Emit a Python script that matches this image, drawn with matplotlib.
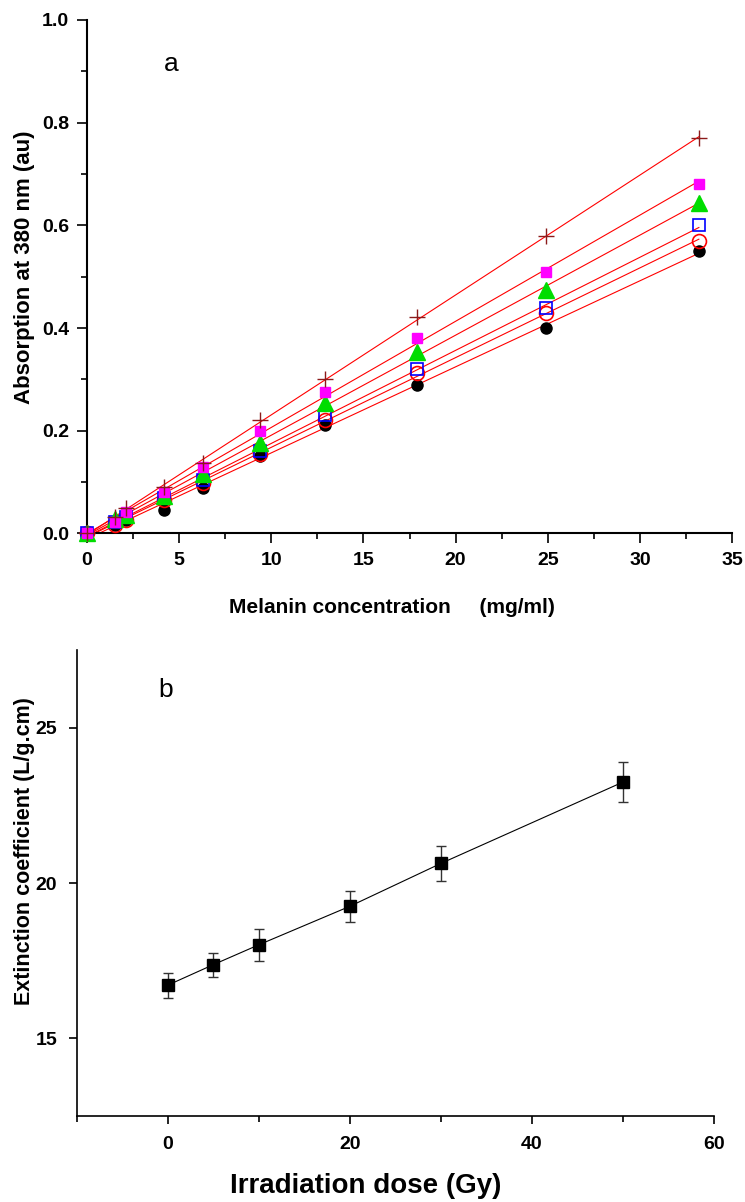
import numpy as np
import matplotlib.pyplot as plt
from matplotlib.ticker import MultipleLocator, FormatStrFormatter

plt.rcParams['font.family'] = ['Liberation Sans', 'DejaVu Sans']

# panel a: absorption vs melanin concentration, one series per dose
conc = [0, 1.5, 2.1, 4.2, 6.3, 9.4, 12.9, 17.9, 24.9, 33.2]
abs_black = [0, 0.016, 0.026, 0.046, 0.088, 0.150, 0.211, 0.290, 0.400, 0.550]
abs_red = [0, 0.017, 0.027, 0.065, 0.098, 0.155, 0.221, 0.312, 0.429, 0.570]
abs_blue = [0, 0.022, 0.032, 0.069, 0.104, 0.160, 0.231, 0.320, 0.440, 0.600]
abs_green = [0, 0.028, 0.036, 0.072, 0.116, 0.177, 0.254, 0.354, 0.474, 0.644]
abs_magenta = [0, 0.023, 0.042, 0.081, 0.130, 0.200, 0.275, 0.380, 0.510, 0.680]
abs_cross = [0, 0.033, 0.049, 0.090, 0.137, 0.220, 0.300, 0.421, 0.579, 0.770]

# panel b: extinction coefficient vs dose
dose = [0, 5, 10, 20, 30, 50]
ext = [16.71, 17.37, 18.01, 19.25, 20.63, 23.25]
ext_err = [0.41, 0.39, 0.51, 0.51, 0.57, 0.64]

fig = plt.figure(figsize=(7.45, 12.02), dpi=100)

# ---- panel a ----
ax = fig.add_axes([0.1168, 0.5562, 0.8658, 0.4272])
series = [
    (abs_black, dict(marker='o', ms=8, mfc='black', mec='black')),
    (abs_red, dict(marker='o', ms=10, mfc='none', mec='red', mew=1.2)),
    (abs_blue, dict(marker='s', ms=9, mfc='none', mec='blue', mew=1.2)),
    (abs_green, dict(marker='^', ms=11, mfc='#00dd00', mec='#00dd00')),
    (abs_magenta, dict(marker='s', ms=7, mfc='#ff00ff', mec='#ff00ff')),
    (abs_cross, dict(marker='+', ms=11, mec='#8b1a1a', mew=1.0)),
]
xfit = np.array([0, conc[-1]])
for y, st in series:
    k, b = np.polyfit(conc, y, 1)
    ax.plot(xfit, k * xfit + b, color='red', lw=0.8, zorder=2)
for y, st in series:
    ax.plot(conc, y, ls='none', zorder=3, clip_on=False, **st)

ax.set_xlim(0, 35)
ax.set_ylim(0, 1.0)
ax.xaxis.set_major_locator(MultipleLocator(5))
ax.xaxis.set_minor_locator(MultipleLocator(2.5))
ax.yaxis.set_major_locator(MultipleLocator(0.2))
ax.yaxis.set_minor_locator(MultipleLocator(0.1))
ax.yaxis.set_major_formatter(FormatStrFormatter('%.1f'))
for s in ['top', 'right']:
    ax.spines[s].set_visible(False)
for s in ['left', 'bottom']:
    ax.spines[s].set_linewidth(1.5)
ax.tick_params(which='major', direction='out', length=7, width=1.2, labelsize=14, pad=6)
ax.tick_params(which='minor', direction='out', length=4, width=1.2)
for lab in ax.get_xticklabels() + ax.get_yticklabels():
    lab.set_fontweight('bold')
ax.set_xlabel('Melanin concentration     (mg/ml)', fontsize=15, fontweight='bold')
ax.xaxis.set_label_coords(0.473, -0.125)
ax.set_ylabel('Absorption at 380 nm (au)', fontsize=16, fontweight='bold')
ax.yaxis.set_label_coords(-0.081, 0.519)
ax.text(0.13, 0.915, 'a', transform=ax.transAxes, fontsize=19, ha='center', va='center')

# ---- panel b ----
bx = fig.add_axes([0.1027, 0.0715, 0.8557, 0.3877])
bx.errorbar(dose, ext, yerr=ext_err, color='black', lw=0.8, marker='s', ms=8,
            ecolor='#333333', elinewidth=1.0, capsize=3.5, capthick=1.0)
bx.set_xlim(-10, 60)
bx.set_ylim(12.5, 27.5)
bx.xaxis.set_major_locator(MultipleLocator(20))
bx.xaxis.set_minor_locator(MultipleLocator(10))
bx.yaxis.set_major_locator(MultipleLocator(5))
for s in ['top', 'right']:
    bx.spines[s].set_visible(False)
for s in ['left', 'bottom']:
    bx.spines[s].set_linewidth(1.2)
bx.tick_params(which='major', direction='out', length=6, width=1.2, labelsize=14, pad=8)
bx.tick_params(which='minor', direction='out', length=4, width=1.2)
for lab in bx.get_xticklabels() + bx.get_yticklabels():
    lab.set_fontweight('bold')
bx.set_xlabel('Irradiation dose (Gy)', fontsize=20, fontweight='bold')
bx.xaxis.set_label_coords(0.454, -0.122)
bx.set_ylabel('Extinction coefficient (L/g.cm)', fontsize=15.5, fontweight='bold')
bx.yaxis.set_label_coords(-0.065, 0.569)
bx.text(0.14, 0.915, 'b', transform=bx.transAxes, fontsize=19, ha='center', va='center')

fig.savefig('out.png', dpi=100)
